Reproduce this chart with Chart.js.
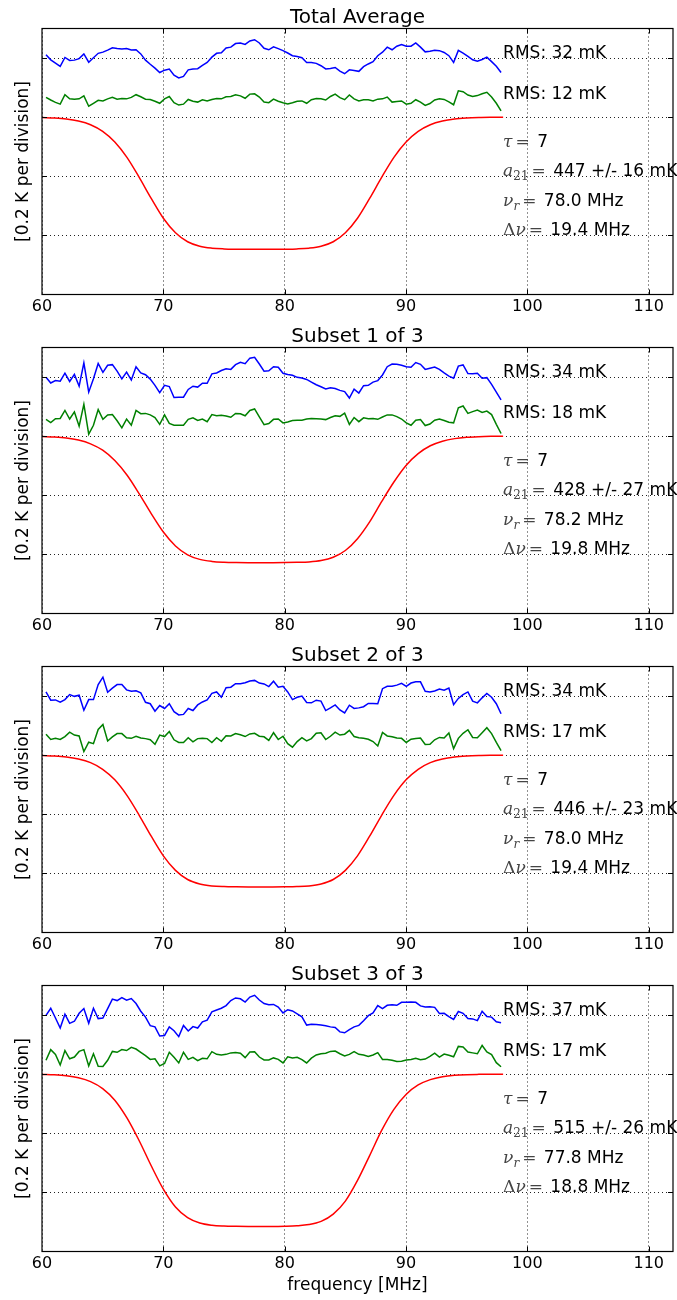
<!DOCTYPE html>
<html><head><meta charset="utf-8">
<script src="https://cdn.jsdelivr.net/npm/chart.js@4.4.1/dist/chart.umd.min.js"></script>
<style>
html,body{margin:0;padding:0;background:#fff;}
#wrap{position:relative;width:677px;height:1300px;overflow:hidden;}
canvas{position:absolute;left:0;display:block;}
</style></head><body><div id="wrap"></div>
<script>
// ---------- data ----------
const freq = [60.33,60.72,61.11,61.50,61.89,62.28,62.67,63.06,63.45,63.85,
64.24,64.63,65.02,65.41,65.80,66.19,66.58,66.97,67.36,67.75,
68.14,68.53,68.92,69.31,69.70,70.10,70.49,70.88,71.27,71.66,
72.05,72.44,72.83,73.22,73.61,74.00,74.39,74.78,75.17,75.56,
75.95,76.35,76.74,77.13,77.52,77.91,78.30,78.69,79.08,79.47,
79.86,80.25,80.64,81.03,81.42,81.81,82.20,82.60,82.99,83.38,
83.77,84.16,84.55,84.94,85.33,85.72,86.11,86.50,86.89,87.28,
87.67,88.06,88.45,88.85,89.24,89.63,90.02,90.41,90.80,91.19,
91.58,91.97,92.36,92.75,93.14,93.53,93.92,94.31,94.70,95.10,
95.49,95.88,96.27,96.66,97.05,97.44,97.83];
const redFreq = [60,61,62,63,64,65,66,67,68,69,70,71,72,73,74,75,76,77,78,79,80,81,82,83,84,85,86,87,88,89,90,91,92,93,94,95,96,97,98];

// values in mK
const blue1 = [211,194,183,172,202,192,193,198,214,186,201,216,220,227,235,232,231,232,227,228,
214,193,179,166,151,159,163,142,133,138,160,163,164,175,185,203,216,218,234,237,
249,251,246,258,262,251,233,228,238,232,225,217,208,205,201,185,185,182,174,163,
165,168,156,147,160,158,155,171,180,188,208,220,237,228,240,246,240,240,251,237,
221,223,226,225,219,208,185,226,217,206,194,189,195,203,188,172,151];
const green1 = [67,58,50,44,76,62,61,62,72,37,47,57,55,62,67,61,63,62,67,76,
69,61,60,54,47,62,70,49,41,44,60,54,51,59,55,60,63,62,69,70,
76,72,64,78,79,68,51,49,61,54,49,45,49,54,55,47,59,63,62,58,
70,78,66,59,75,62,55,59,59,55,61,62,68,51,53,55,44,47,59,51,
40,46,58,62,60,52,42,89,86,75,70,73,79,84,68,47,21];
const red1 = [-1.2,-2.8,-6.1,-13,-25.5,-48,-84,-136,-203,-275,-342,-391,-421.5,-436.7,-443.2,-445.7,-446.6,-447,-447,-447,
-446.6,-445.7,-443.2,-436.7,-421.5,-391,-342,-275,-203,-136,-84,-48,-25.5,-13,-6.1,-2.8,-1.2,-0.5,-0.2];

const blue2 = [199,180,188,186,213,185,209,169,248,149,194,246,216,240,242,220,194,217,190,235,
214,208,193,172,147,172,168,131,132,132,158,169,166,179,179,211,214,222,228,226,
242,250,245,264,267,244,220,221,235,233,213,209,206,199,197,192,183,174,167,160,
164,161,155,151,129,159,146,171,172,183,188,207,235,244,243,240,235,233,249,243,
226,230,234,226,214,203,196,237,241,212,211,213,196,198,175,149,123];
const green2 = [57,46,59,60,87,58,82,34,108,7,37,90,57,72,73,52,28,58,37,87,
76,77,72,63,40,72,43,37,37,37,57,62,53,58,49,73,69,71,68,64,
77,76,69,87,92,65,39,43,57,58,45,48,53,54,54,58,60,59,58,56,
63,69,67,78,40,63,49,62,59,60,57,65,72,72,66,58,45,37,54,56,
36,41,54,58,53,47,45,96,102,77,83,88,80,85,73,40,9];
const red2 = [-1.3,-3.0,-6.4,-13.3,-25.9,-47.5,-82.4,-131.4,-194.3,-262,-324.4,-371.5,-401.5,-416.9,-423.7,-426.5,-427.6,-428,-428,-428,
-427.7,-426.9,-425.4,-420.7,-409.6,-386.9,-347.1,-290.2,-220.8,-155,-99,-59,-32.5,-17,-8.3,-3.8,-1.7,-0.7,-0.3];

const blue3 = [214,186,187,179,188,205,199,203,152,188,188,239,264,213,227,239,239,221,216,218,
211,179,174,149,168,158,174,147,136,138,158,151,170,180,187,209,214,196,228,230,
242,242,245,251,253,244,241,232,250,230,233,214,188,196,200,178,177,186,183,151,
160,170,153,143,169,158,160,164,175,175,174,225,233,233,237,243,233,244,248,248,
216,214,217,224,220,227,171,192,205,214,183,177,194,209,196,174,140];
const green3 = [71,53,57,53,63,78,68,65,12,44,39,87,104,48,62,73,73,59,57,64,
58,56,52,37,68,63,80,52,43,43,59,45,56,57,56,43,59,47,66,65,
73,69,63,72,74,64,62,50,76,53,64,39,27,46,59,48,56,74,76,53,
64,78,68,71,84,63,59,57,54,46,31,77,65,62,58,57,43,54,56,58,
36,37,52,60,58,75,22,57,74,86,60,59,76,93,73,43,15];
const red3 = [-1.2,-2.8,-6.1,-12.9,-25.4,-47.7,-83.4,-136,-202.5,-274.3,-340.7,-389.8,-420.6,-435.7,-442.3,-444.7,-445.6,-446,-446,-446,
-445.6,-444.7,-442.3,-435.7,-420.6,-389.8,-340.7,-274.3,-202.5,-136,-83.4,-47.7,-25.4,-12.9,-6.1,-2.8,-1.2,-0.5,-0.2];

const blue4 = [199,223,190,156,203,172,179,206,222,172,223,188,190,222,254,249,259,250,256,239,
213,193,164,160,129,131,160,147,127,165,146,161,156,177,183,211,217,223,232,249,
258,255,244,261,267,251,239,235,236,227,207,218,214,204,194,166,169,168,166,164,
160,158,143,140,151,160,165,181,198,207,232,222,233,235,233,243,243,244,243,231,
227,228,226,205,206,195,185,212,206,188,187,181,213,195,193,177,174];
const green4 = [47,83,67,31,80,52,58,77,83,28,69,27,26,47,77,74,83,80,91,85,
74,63,50,52,28,36,74,57,38,74,50,57,46,54,52,76,67,65,67,72,
73,71,56,75,76,58,48,48,55,50,38,59,55,57,49,38,54,65,69,71,
77,78,69,62,67,76,67,65,60,65,73,50,50,47,43,44,48,50,54,49,
51,60,71,58,68,64,59,94,92,75,72,69,97,75,66,39,25];
const red4 = [-0.9,-2.3,-5.5,-12.2,-25.1,-48.7,-88,-148,-224.5,-310,-389,-449.6,-485.6,-503.7,-511.1,-513.7,-514.6,-515,-515,-515,
-514.4,-512.9,-508.8,-498,-473.3,-429.5,-359.5,-275.5,-189.5,-119,-68.5,-36.6,-18.4,-8.8,-3.9,-1.6,-0.7,-0.3,-0.1];

const titles = ['Total Average','Subset 1 of 3','Subset 2 of 3','Subset 3 of 3'];
const rmsBlue = [32,34,34,37];
const rmsGreen = [12,18,17,17];
const tauVal = [7,7,7,7];
const a21Val = [447,428,446,515];
const a21Err = [16,27,23,26];
const nuR = ['78.0','78.2','78.0','77.8'];
const dNu = ['19.4','19.8','19.4','18.8'];
const xTicks = [60,70,80,90,100,110];
const yGrid = [-400,-200,0,200];
const yLabel = '[0.2 K per division]';
const xLabel = 'frequency [MHz]';

const blues = [blue1,blue2,blue3,blue4];
const greens = [green1,green2,green3,green4];
const reds = [red1,red2,red3,red4];

// ---------- drawing ----------
const SANS = '17px "DejaVu Sans"';
const MI = 'italic 17px "DejaVu Serif"';
const MR = '17px "DejaVu Serif"';
const MSI = 'italic 12px "DejaVu Serif"';
const MSR = '12px "DejaVu Serif"';
const MC = '#444';

function drawRuns(ctx, x, y, runs) {
  for (const r of runs) {
    if (r.gap) { x += r.gap; continue; }
    ctx.font = r.f; ctx.fillStyle = r.c || '#000';
    ctx.fillText(r.t, x, y + (r.dy || 0));
    x += ctx.measureText(r.t).width;
  }
}

const decor = {
  id: 'decor',
  afterDraw(chart, args, opts) {
    const k = opts.idx;
    const {ctx, chartArea: a, scales: {x, y}} = chart;
    ctx.save();
    ctx.textAlign = 'left'; ctx.textBaseline = 'alphabetic';
    const tx = x.getPixelForValue(98);
    drawRuns(ctx, tx, y.getPixelForValue(200), [{t:'RMS: ' + rmsBlue[k] + ' mK', f:SANS}]);
    drawRuns(ctx, tx, y.getPixelForValue(60), [{t:'RMS: ' + rmsGreen[k] + ' mK', f:SANS}]);
    drawRuns(ctx, tx, y.getPixelForValue(-100), [
      {t:'τ', f:MI, c:MC}, {gap:3}, {t:'=', f:MR, c:MC}, {gap:2}, {t:' ' + tauVal[k], f:SANS}]);
    drawRuns(ctx, tx, y.getPixelForValue(-200), [
      {t:'a', f:MI, c:MC}, {t:'21', f:MSR, c:MC, dy:4}, {gap:3}, {t:'=', f:MR, c:MC}, {gap:2},
      {t:' ' + a21Val[k] + ' +/- ' + a21Err[k] + ' mK', f:SANS}]);
    drawRuns(ctx, tx, y.getPixelForValue(-300), [
      {t:'ν', f:MI, c:MC}, {t:'r', f:MSI, c:MC, dy:4}, {gap:3}, {t:'=', f:MR, c:MC}, {gap:2},
      {t:' ' + nuR[k] + ' MHz', f:SANS}]);
    drawRuns(ctx, tx, y.getPixelForValue(-400), [
      {t:'Δ', f:MR, c:MC}, {t:'ν', f:MI, c:MC}, {gap:3}, {t:'=', f:MR, c:MC}, {gap:2},
      {t:' ' + dNu[k] + ' MHz', f:SANS}]);

    // frame
    ctx.setLineDash([]);
    ctx.strokeStyle = '#000'; ctx.lineWidth = 1.2;
    ctx.strokeRect(a.left, a.top, a.right - a.left, a.bottom - a.top);
    // inward ticks
    ctx.lineWidth = 1;
    ctx.beginPath();
    for (const v of xTicks) {
      if (v === 60) continue;
      const px = Math.round(x.getPixelForValue(v)) + 0.5;
      ctx.moveTo(px, a.bottom); ctx.lineTo(px, a.bottom - 5);
      ctx.moveTo(px, a.top); ctx.lineTo(px, a.top + 5);
    }
    for (const v of yGrid) {
      const py = Math.round(y.getPixelForValue(v)) + 0.5;
      ctx.moveTo(a.left, py); ctx.lineTo(a.left + 5, py);
      ctx.moveTo(a.right, py); ctx.lineTo(a.right - 5, py);
    }
    ctx.stroke();

    // title
    ctx.fillStyle = '#000';
    ctx.font = '20px "DejaVu Sans"'; ctx.textAlign = 'center';
    ctx.fillText(titles[k], (a.left + a.right) / 2, 22.5);
    // y label
    ctx.save();
    ctx.translate(27.5, (a.top + a.bottom) / 2);
    ctx.rotate(-Math.PI / 2);
    ctx.font = '17px "DejaVu Sans"';
    ctx.fillText(yLabel, 0, 0);
    ctx.restore();
    if (k === 3) {
      ctx.font = '17px "DejaVu Sans"';
      ctx.fillText(xLabel, (a.left + a.right) / 2, 333);
    }
    ctx.restore();
  }
};

const tops = [0, 319, 638, 957];
const heights = [319, 319, 319, 343];
const wrap = document.getElementById('wrap');

for (let k = 0; k < 4; k++) {
  const cv = document.createElement('canvas');
  cv.width = 677; cv.height = heights[k];
  cv.style.top = tops[k] + 'px';
  cv.style.width = '677px'; cv.style.height = heights[k] + 'px';
  wrap.appendChild(cv);
  const H = heights[k];
  new Chart(cv.getContext('2d'), {
    type: 'line',
    data: {
      datasets: [
        {data: freq.map((f, i) => ({x: f, y: blues[k][i]})), borderColor: '#0000ff', borderWidth: 1.5, pointRadius: 0, tension: 0},
        {data: freq.map((f, i) => ({x: f, y: greens[k][i]})), borderColor: '#008000', borderWidth: 1.5, pointRadius: 0, tension: 0},
        {data: redFreq.map((f, i) => ({x: f, y: reds[k][i]})), borderColor: '#ff0000', borderWidth: 1.5, pointRadius: 0, cubicInterpolationMode: 'monotone'}
      ]
    },
    options: {
      responsive: false, animation: false, devicePixelRatio: 1, events: [],
      layout: {padding: {top: 28.5, right: 4, left: 0, bottom: 0}},
      plugins: {legend: {display: false}, tooltip: {enabled: false}, decor: {idx: k}},
      scales: {
        x: {
          type: 'linear', min: 60, max: 112,
          afterBuildTicks: s => { s.ticks = xTicks.map(v => ({value: v})); },
          afterFit: s => { s.height = H - 294.5; },
          ticks: {color: '#000', font: {family: 'DejaVu Sans', size: 16}, padding: 3, maxRotation: 0, autoSkip: false},
          grid: {color: '#222', lineWidth: 1, drawTicks: false},
          border: {display: false, dash: [1, 3]}
        },
        y: {
          type: 'linear', min: -600, max: 300,
          afterBuildTicks: s => { s.ticks = yGrid.map(v => ({value: v})); },
          afterFit: s => { s.width = 42; },
          ticks: {display: false},
          grid: {color: '#222', lineWidth: 1, drawTicks: false},
          border: {display: false, dash: [1, 3]}
        }
      }
    },
    plugins: [decor]
  });
}
</script></body></html>
